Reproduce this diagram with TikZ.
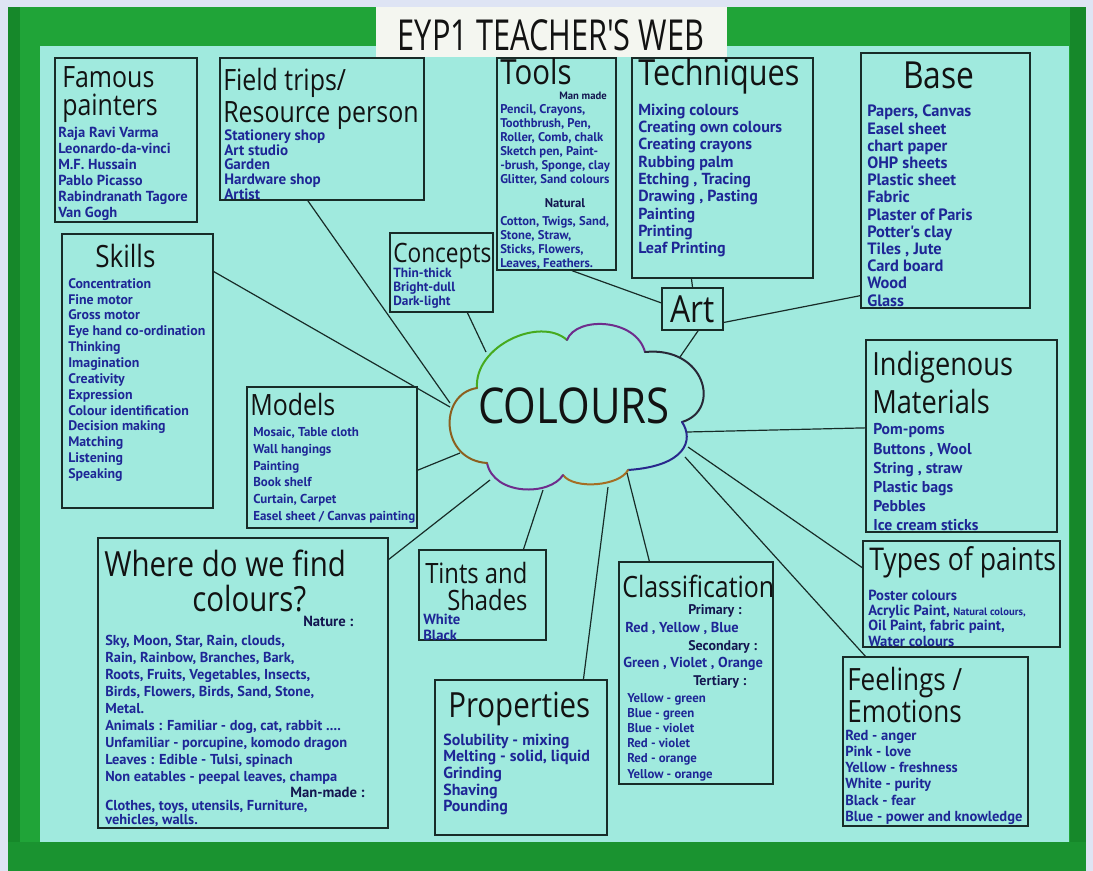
\documentclass[tikz,border=0pt]{standalone}
\usepackage{fontspec}
\usetikzlibrary{fit,calc}
\newfontfamily\headf[FakeStretch=0.85]{Open Sans}
\newfontfamily\titlef[FakeStretch=0.72]{Open Sans}
\newfontfamily\itemf{PT Sans}
\definecolor{outerbg}{RGB}{222,228,244}
\definecolor{greenband}{RGB}{32,164,56}
\definecolor{greendark}{RGB}{22,136,42}
\definecolor{paper}{RGB}{160,234,222}
\definecolor{titlepaper}{RGB}{244,246,240}
\definecolor{boxline}{RGB}{24,44,40}
\definecolor{inkblack}{RGB}{18,18,18}
\definecolor{inkblue}{RGB}{30,38,150}
\definecolor{inknavy}{RGB}{20,22,80}
\definecolor{cgreen}{RGB}{70,170,30}
\definecolor{cpurple}{RGB}{110,45,140}
\definecolor{cdark}{RGB}{40,40,55}
\definecolor{cindigo}{RGB}{40,40,140}
\definecolor{cbrown}{RGB}{140,95,30}
\definecolor{corange}{RGB}{165,110,35}
\begin{document}
\begin{tikzpicture}[x=0.75pt,y=-0.75pt,
  box/.style={draw=boxline, line width=1.1pt, inner sep=0pt},
  link/.style={draw=boxline, line width=0.9pt},
  hd/.style={anchor=base west, inner sep=0pt, text=inkblack, font=\headf\fontsize{#1}{#1}\selectfont},
  itm/.style n args={2}{anchor=north west, inner sep=0pt, align=left, text=inkblue, font=\itemf\bfseries\fontsize{#1}{#2}\selectfont},
  sub/.style={anchor=base west, inner sep=0pt, text=inkblue, font=\itemf\bfseries\fontsize{#1}{#1}\selectfont},
  arc/.style={line width=1.5pt, line cap=round}
]
\useasboundingbox (0,0) rectangle (1093,871);
% board: frame, green border and paper
\fill[outerbg] (0,0) rectangle (1093,871);
\fill[greenband] (8,7) rectangle (1086,871);
\fill[greendark] (8,7) rectangle (20,871);
\fill[greendark] (1070,7) rectangle (1086,871);
\fill[greendark!60!greenband] (8,842) rectangle (1086,871);
\fill[paper] (40,46) rectangle (1069,842);

% title strip
\node[fill=titlepaper, inner sep=0pt, fit={(376,7) (727,57)}] (titlebox) {};
\node[anchor=base, inner sep=0pt, text=inkblack, font=\titlef\fontsize{32}{32}\selectfont] (title) at (551,50) {EYP1 TEACHER'S WEB};

% boxes
\node[box, fit={(55,58) (197,222)}] (fp) {};
\node[box, fit={(220,58) (424,200)}] (ft) {};
\node[box, fit={(497,58) (616,270)}] (tl) {};
\node[box, fit={(632,58) (813,278)}] (tq) {};
\node[box, fit={(861,53) (1030,308)}] (bs) {};
\node[box, fit={(62,234) (213,508)}] (sk) {};
\node[box, fit={(390,233) (493,312)}] (cc) {};
\node[box, minimum width=45.75pt, minimum height=31.5pt, font=\headf\fontsize{28}{28}\selectfont, text=inkblack] (art) at (692.5,309) {Art};
\node[box, fit={(247,387) (417,528)}] (md) {};
\node[box, fit={(866,340) (1057,532)}] (im) {};
\node[box, fit={(863,541) (1060,647)}] (tp) {};
\node[box, fit={(98,538) (388,828)}] (wh) {};
\node[box, fit={(419,550) (546,640)}] (ts) {};
\node[box, fit={(435,680) (607,835)}] (pr) {};
\node[box, fit={(619,562) (773,784)}] (cl) {};
\node[box, fit={(843,657) (1028,826)}] (fe) {};

% the cloud and its attachment points
\coordinate (k-ft) at (450,403);
\coordinate (k-sk) at (450,407);
\coordinate (k-cc) at (486,352);
\coordinate (k-md) at (460,453);
\coordinate (k-wh) at (490,480);
\coordinate (k-ts) at (543,490);
\coordinate (k-pr) at (608,487);
\coordinate (k-cl) at (627,473);
\coordinate (k-im) at (687,432);
\coordinate (k-tp) at (688,447);
\coordinate (k-fe) at (685,457);
\coordinate (k-art) at (680,357);

\draw[arc, cgreen] (477,388) .. controls (474,346) and (540,316) .. (567,340);
\draw[arc, cpurple] (567,340) .. controls (576,316) and (636,318) .. (645,352);
\draw[arc, cdark] (645,352) .. controls (705,346) and (722,410) .. (682,422);
\draw[arc, cindigo] (682,422) .. controls (694,440) and (686,466) .. (628,470);
\draw[arc, corange] (628,470) .. controls (620,486) and (574,490) .. (563,475);
\draw[arc, cpurple] (563,475) .. controls (550,496) and (494,496) .. (487,463);
\draw[arc, cbrown] (487,463) .. controls (440,460) and (438,394) .. (477,388);
\node[anchor=base west, inner sep=0pt, text=inkblack, font=\headf\fontsize{37}{37}\selectfont] (colours) at (478,423) {COLOURS};

% connectors
\draw[link] ($(ft.south west)!0.431!(ft.south east)$) -- (k-ft);
\draw[link] ($(sk.north east)!0.139!(sk.south east)$) -- (k-sk);
\draw[link] ($(cc.south west)!0.748!(cc.south east)$) -- (k-cc);
\draw[link] ($(md.north east)!0.589!(md.south east)$) -- (k-md);
\draw[link] ($(wh.north east)!0.076!(wh.south east)$) -- (k-wh);
\draw[link] ($(ts.north west)!0.819!(ts.north east)$) -- (k-ts);
\draw[link] ($(pr.north west)!0.86!(pr.north east)$) -- (k-pr);
\draw[link] ($(cl.north west)!0.2!(cl.north east)$) -- (k-cl);
\draw[link] ($(im.north west)!0.458!(im.south west)$) -- (k-im);
\draw[link] ($(tp.north west)!0.255!(tp.south west)$) -- (k-tp);
\draw[link] ($(fe.north west)!0.124!(fe.north east)$) -- (k-fe);
\draw[link] ($(art.south west)!0.59!(art.south east)$) -- (k-art);
\draw[link] ($(tl.south west)!0.63!(tl.south east)$) -- ($(art.north west)!0.36!(art.south west)$);
\draw[link] ($(tq.south west)!0.33!(tq.south east)$) -- (art.north);
\draw[link] ($(bs.north west)!0.949!(bs.south west)$) -- ($(art.north east)!0.81!(art.south east)$);

% Famous painters
\node[hd=22] (fp-h1) at (62,87) {Famous};
\node[hd=22] (fp-h2) at (62,115) {painters};
\node[itm={10.9}{12}] (fp-i) at (58,126.5) {Raja Ravi Varma\\Leonardo-da-vinci\\M.F. Hussain\\Pablo Picasso\\Rabindranath Tagore\\Van Gogh};

% Field trips
\node[hd=22] (ft-h1) at (223,90) {Field trips/};
\node[hd=22] (ft-h2) at (223,122) {Resource person};
\node[itm={11.3}{11}] (ft-i) at (224,129.5) {Stationery shop\\Art studio\\Garden\\Hardware shop\\Artist};

% Tools
\node[hd=26] (tl-h) at (500,84) {Tools};
\node[anchor=base east, inner sep=0pt, text=inknavy, font=\itemf\bfseries\fontsize{8}{8}\selectfont] (tl-s1) at (607,99) {Man made};
\node[itm={9.5}{10.5}] (tl-i1) at (500,104) {Pencil, Crayons,\\Toothbrush, Pen,\\Roller, Comb, chalk\\Sketch pen, Paint-\\-brush, Sponge, clay\\Glitter, Sand colours};
\node[anchor=base, inner sep=0pt, text=inknavy, font=\itemf\bfseries\fontsize{9.5}{9.5}\selectfont] (tl-s2) at (565,207) {Natural};
\node[itm={9.5}{10.5}] (tl-i2) at (500,216) {Cotton, Twigs, Sand,\\Stone, Straw,\\Sticks, Flowers,\\Leaves, Feathers.};

% Techniques
\node[hd=27] (tq-h) at (638,85) {Techniques};
\node[itm={12}{13}] (tq-i) at (638,103.5) {Mixing colours\\Creating own colours\\Creating crayons\\Rubbing palm\\Etching , Tracing\\Drawing , Pasting\\Painting\\Printing\\Leaf Printing};

% Base
\node[hd=28] (bs-h) at (903,88) {Base};
\node[itm={12.3}{12.9}] (bs-i) at (867,105) {Papers, Canvas\\Easel sheet\\chart paper\\OHP sheets\\Plastic sheet\\Fabric\\Plaster of Paris\\Potter's clay\\Tiles , Jute\\Card board\\Wood\\Glass};

% Skills
\node[hd=23] (sk-h) at (95,267) {Skills};
\node[itm={10.4}{11.9}] (sk-i) at (68,278) {Concentration\\Fine motor\\Gross motor\\Eye hand co-ordination\\Thinking\\Imagination\\Creativity\\Expression\\Colour identification\\Decision making\\Matching\\Listening\\Speaking};

% Concepts
\node[hd=20] (cc-h) at (393,262) {Concepts};
\node[itm={10}{10.5}] (cc-i) at (393,268) {Thin-thick\\Bright-dull\\Dark-light};

% Models
\node[hd=22] (md-h) at (250,415) {Models};
\node[itm={9.7}{12.5}] (md-i) at (253,427.5) {Mosaic, Table cloth\\Wall hangings\\Painting\\Book shelf\\Curtain, Carpet\\Easel sheet / Canvas painting};

% Indigenous materials
\node[hd=24] (im-h1) at (872,375) {Indigenous};
\node[hd=24] (im-h2) at (872,413) {Materials};
\node[itm={11.8}{14.3}] (im-i) at (873,423.5) {Pom-poms\\Buttons , Wool\\String , straw\\Plastic bags\\Pebbles\\Ice cream sticks};

% Types of paints
\node[hd=23.5] (tp-h) at (869,570) {Types of paints};
\node[itm={11}{11.5}] (tp-i) at (868,589.5) {Poster colours\\Acrylic Paint, {\fontsize{8}{8}\selectfont Natural colours,}\\Oil Paint, fabric paint,\\Water colours};

% Where do we find colours?
\node[hd=26] (wh-h1) at (104,576) {Where do we find};
\node[hd=26] (wh-h2) at (192,611) {colours?};
\node[sub=11, text=inknavy] (wh-s1) at (303,626) {Nature :};
\node[itm={10.8}{12.8}] (wh-i1) at (105,634.6) {Sky, Moon, Star, Rain, clouds,\\Rain, Rainbow, Branches, Bark,\\Roots, Fruits, Vegetables, Insects,\\Birds, Flowers, Birds, Sand, Stone,\\Metal.\\Animals : Familiar - dog, cat, rabbit ....\\Unfamiliar - porcupine, komodo dragon\\Leaves : Edible - Tulsi, spinach\\Non eatables - peepal leaves, champa};
\node[sub=11, text=inknavy] (wh-s2) at (290,797) {Man-made :};
\node[itm={10.8}{10.5}] (wh-i2) at (105,800) {Clothes, toys, utensils, Furniture,\\vehicles, walls.};

% Tints and shades
\node[hd=21] (ts-h1) at (425,583) {Tints and};
\node[hd=21] (ts-h2) at (447,610) {Shades};
\node[itm={11}{12}] (ts-i) at (423,614) {White\\Black};

% Properties
\node[hd=26] (pr-h) at (448,717) {Properties};
\node[itm={12}{12.5}] (pr-i) at (443,733.5) {Solubility - mixing\\Melting - solid, liquid\\Grinding\\Shaving\\Pounding};

% Classification
\node[hd=22] (cl-h) at (622,597) {Classification};
\node[sub=10.5, text=inknavy] (cl-s1) at (688,614) {Primary :};
\node[sub=10.8] (cl-r1) at (625,632) {Red , Yellow , Blue};
\node[sub=10.5, text=inknavy] (cl-s2) at (688,650) {Secondary :};
\node[sub=10.8] (cl-r2) at (623,667) {Green , Violet , Orange};
\node[sub=10.5, text=inknavy] (cl-s3) at (693,685) {Tertiary :};
\node[itm={9.6}{11.4}] (cl-i) at (627,692.8) {Yellow - green\\Blue - green\\Blue - violet\\Red - violet\\Red - orange\\Yellow - orange};

% Feelings / Emotions
\node[hd=23] (fe-h1) at (847,690) {Feelings /};
\node[hd=23] (fe-h2) at (847,722) {Emotions};
\node[itm={10.9}{12.2}] (fe-i) at (845,729.5) {Red - anger\\Pink - love\\Yellow - freshness\\White - purity\\Black - fear\\Blue - power and knowledge};
\end{tikzpicture}
\end{document}
